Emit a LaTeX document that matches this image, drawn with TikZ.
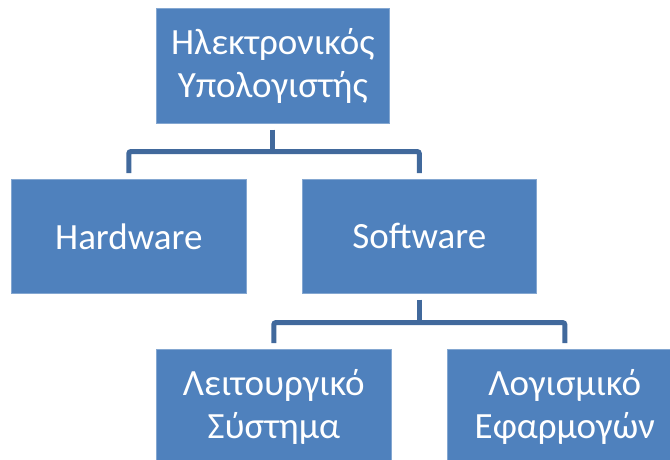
\documentclass[tikz,border=0pt]{standalone}
\usepackage{fontspec}
\setmainfont{Carlito}
\definecolor{boxblue}{HTML}{4F81BD}
\definecolor{lineblue}{HTML}{41699C}
\begin{document}
\begin{tikzpicture}[x=1pt,y=-1pt,
  box/.style={fill=boxblue, draw=boxblue!70!white, line width=0.6pt, text=white, align=center,
    font=\fontsize{37}{43}\selectfont, inner sep=0pt, anchor=north west},
  conn/.style={draw=lineblue, line width=5pt, rounded corners=2pt}]
\useasboundingbox (0,0) rectangle (670,459);
\node[box, minimum width=233pt, minimum height=115pt] (top) at (156,8) {Ηλεκτρονικός\\Υπολογιστής};
\node[box, minimum width=235pt, minimum height=114pt] (hw) at (11,179) {Hardware};
\node[box, minimum width=234pt, minimum height=114pt] (sw) at (302,179) {Software};
\node[box, minimum width=235pt, minimum height=116pt] (os) at (156,349) {Λειτουργικό\\Σύστημα};
\node[box, minimum width=235pt, minimum height=116pt] (app) at (447,349) {Λογισμικό\\Εφαρμογών};
\draw[conn] ([yshift=-6pt]top.south) -- ([yshift=-28pt]top.south);
\draw[conn] ([yshift=6pt]hw.north) |- ([yshift=-28pt]top.south) -| ([yshift=6pt]sw.north);
\draw[conn] ([yshift=-6pt]sw.south) -- ([yshift=-29pt]sw.south);
\draw[conn] ([yshift=6pt]os.north) |- ([yshift=-29pt]sw.south) -| ([yshift=6pt]app.north);
\end{tikzpicture}
\end{document}
